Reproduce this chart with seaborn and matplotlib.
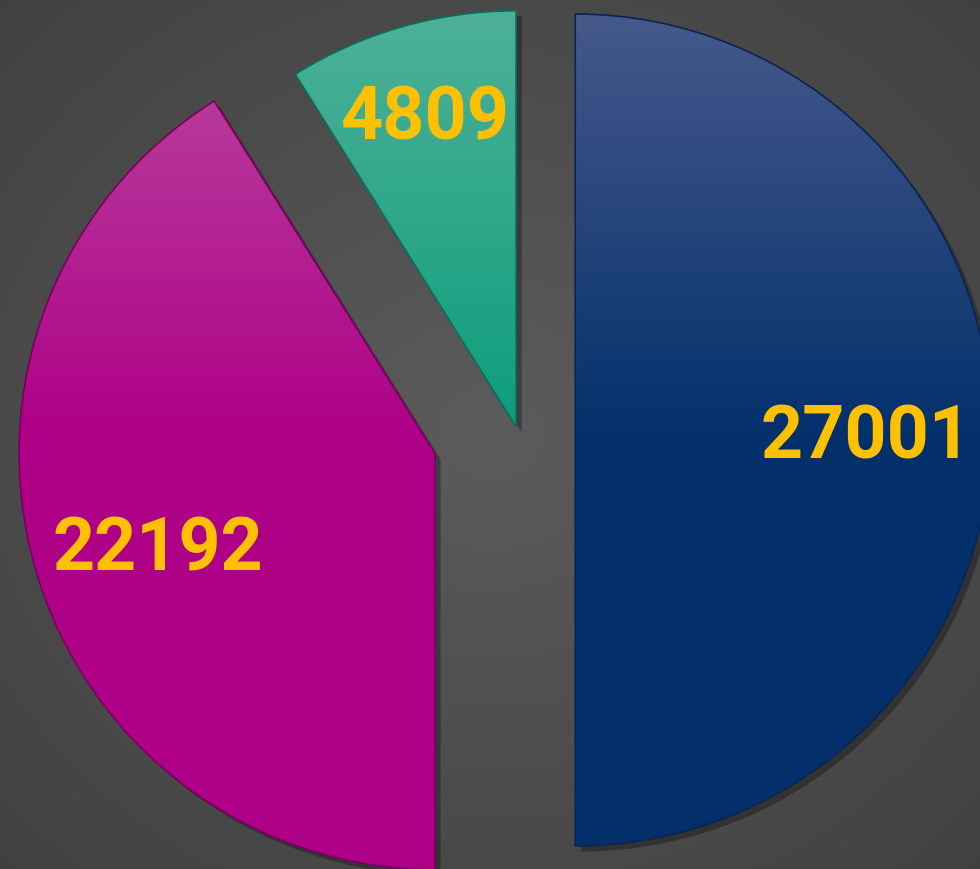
import numpy as np
import matplotlib
matplotlib.use("Agg")
import matplotlib.pyplot as plt
import matplotlib.patheffects as pe
from matplotlib.patches import PathPatch
from matplotlib.colors import LinearSegmentedColormap
import seaborn as sns

# slice values, clockwise from 12 o'clock
values = [27001, 22192, 4809]

# base colour (lower part) and lighter tint (top of chart) per slice
base_colors = ["#03306b", "#ae0087", "#0c9d7c"]
top_colors = ["#485a8c", "#bb4aa0", "#4fb199"]
edge_colors = ["#0a2550", "#7a0060", "#0a6e58"]
explode = [0.14, 0.205, 0.008]
label_dist = [0.70, 0.70, 0.79]
label_turn = [0.0, 1.5, 0.0]  # small angular nudge of the labels, degrees

sns.set_theme(style="white")
plt.rcParams["font.family"] = ["Liberation Sans Narrow", "Roboto", "DejaVu Sans"]

W, H = 980, 870
R = 416
fig = plt.figure(figsize=(9.8, 8.7), dpi=100)
ax = fig.add_axes([0, 0, 1, 1])

# dark radial background
yy, xx = np.mgrid[0:H, 0:W]
rr = np.hypot((xx - W / 2) / W, (yy - H / 2) / H)
bg_cmap = LinearSegmentedColormap.from_list("bg", ["#5c5c5c", "#414141"])
ax.imshow(rr, cmap=bg_cmap, vmin=0, vmax=0.7, extent=(0, W, 0, H),
          origin="lower", aspect="auto", zorder=0)

total = sum(values)
wedges, texts, autotexts = ax.pie(
    values,
    colors=base_colors,
    explode=[e * R for e in explode],  # pie takes explode in data units
    startangle=90,
    counterclock=False,
    radius=R,
    center=(517, 439),
    autopct=lambda p: f"{round(p * total / 100)}",
    pctdistance=0.72,
    wedgeprops=dict(linewidth=0, zorder=1,
                    path_effects=[pe.SimplePatchShadow(offset=(4, -4), shadow_rgbFace="black", alpha=0.3),
                                  pe.Normal()]),
    textprops=dict(color="#FFC000", fontsize=53, fontweight="bold"),
)

# vertical gradient inside each wedge: lighter at the top
ygrid = np.linspace(0, H, H)[:, None]
shade = np.clip((ygrid - 430) / (H - 430), 0, 1)
for w, c0, c1, ec in zip(wedges, base_colors, top_colors, edge_colors):
    cmap = LinearSegmentedColormap.from_list("g", [c0, c1])
    im = ax.imshow(shade, cmap=cmap, vmin=0, vmax=1, extent=(0, W, 0, H),
                   origin="lower", aspect="auto", zorder=1.5)
    im.set_clip_path(w)
    ax.add_patch(PathPatch(w.get_path(), fill=False, edgecolor=ec, lw=1.2, zorder=2))

# place value labels inside their slices
for w, t, d, turn in zip(wedges, autotexts, label_dist, label_turn):
    mid = np.deg2rad((w.theta1 + w.theta2) / 2 + turn)
    cx, cy = w.center
    t.set_position((cx + d * w.r * np.cos(mid), cy + d * w.r * np.sin(mid) - 8))
    t.set_zorder(4)

ax.set_xlim(0, W)
ax.set_ylim(0, H)
ax.set_aspect("equal")
ax.axis("off")

fig.savefig("out.png", dpi=100)
